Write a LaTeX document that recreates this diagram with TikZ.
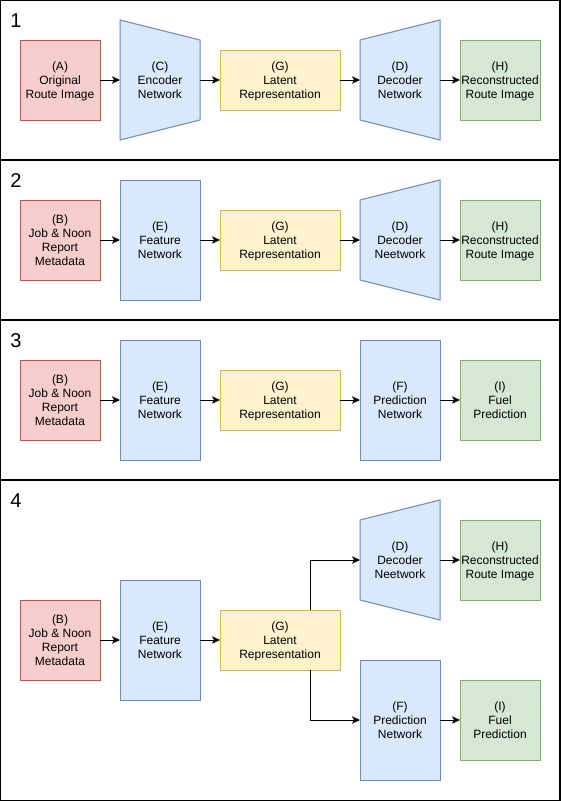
\documentclass[tikz,border=0pt]{standalone}
\usepackage{fontspec}
\setmainfont{Liberation Sans}
\usetikzlibrary{arrows.meta,calc,backgrounds}
\definecolor{redF}{HTML}{F8CECC}\definecolor{redD}{HTML}{B85450}
\definecolor{bluF}{HTML}{DAE8FC}\definecolor{bluD}{HTML}{6C8EBF}
\definecolor{yelF}{HTML}{FFF2CC}\definecolor{yelD}{HTML}{D6B656}
\definecolor{grnF}{HTML}{D5E8D4}\definecolor{grnD}{HTML}{82B366}
\tikzset{
  base/.style={inner sep=0pt,outer sep=0pt,align=center,line width=0.75pt,
    font=\fontsize{9}{10.5}\selectfont,text depth=0pt},
  inbox/.style={base,fill=redF,draw=redD,minimum width=60pt,minimum height=60pt},
  outbox/.style={base,fill=grnF,draw=grnD,minimum width=60pt,minimum height=60pt},
  latbox/.style={base,fill=yelF,draw=yelD,minimum width=90pt,minimum height=45pt},
  netbox/.style={base,fill=bluF,draw=bluD,minimum width=60pt,minimum height=90pt},
  trapbox/.style={base,minimum width=60pt,minimum height=90pt},
  trapfill/.style={fill=bluF,draw=bluD,line width=0.75pt},
  arr/.style={line width=0.75pt,-{Stealth[length=6pt,width=5.5pt,inset=1.5pt]}},
  frame/.style={line width=0.9pt,draw=black},
  num/.style={inner sep=0pt,font=\fontsize{15}{18}\selectfont},
}
\begin{document}
\begin{tikzpicture}[x=0.75pt,y=-0.75pt]
\useasboundingbox (0,0) rectangle (561,801);
\begin{scope}[on background layer]
\fill[white] (0,0) rectangle (561,801);
\end{scope}
\draw[frame] (0.5,0.5) rectangle (560,160);
\draw[frame] (0.5,160) rectangle (560,320);
\draw[frame] (0.5,320) rectangle (560,480);
\draw[frame] (0.5,480) rectangle (560,800.5);
\node[num] (n1) at (16,21) {1};
\node[num] (n2) at (16,181) {2};
\node[num] (n3) at (16,341) {3};
\node[num] (n4) at (16,501) {4};
% Panel 1
\node[inbox] (A1) at (60,80) {(A)\\Original\\Route Image};
\node[trapbox] (C1) at (160,80) {(C)\\Encoder\\Network};
\node[latbox] (G1) at (280,80) {(G)\\Latent\\Representation};
\node[trapbox] (D1) at (400,80) {(D)\\Decoder\\Network};
\node[outbox] (H1) at (500,80) {(H)\\Reconstructed\\Route Image};
% Panel 2
\node[inbox] (B2) at (60,240) {(B)\\Job \& Noon\\Report\\Metadata};
\node[netbox] (E2) at (160,240) {(E)\\Feature\\Network};
\node[latbox] (G2) at (280,240) {(G)\\Latent\\Representation};
\node[trapbox] (D2) at (400,240) {(D)\\Decoder\\Neetwork};
\node[outbox] (H2) at (500,240) {(H)\\Reconstructed\\Route Image};
% Panel 3
\node[inbox] (B3) at (60,400) {(B)\\Job \& Noon\\Report\\Metadata};
\node[netbox] (E3) at (160,400) {(E)\\Feature\\Network};
\node[latbox] (G3) at (280,400) {(G)\\Latent\\Representation};
\node[netbox] (F3) at (400,400) {(F)\\Prediction\\Network};
\node[outbox] (I3) at (500,400) {(I)\\Fuel\\Prediction};
% Panel 4
\node[inbox] (B4) at (60,640) {(B)\\Job \& Noon\\Report\\Metadata};
\node[netbox] (E4) at (160,640) {(E)\\Feature\\Network};
\node[latbox] (G4) at (280,640) {(G)\\Latent\\Representation};
\node[trapbox] (D4) at (400,560) {(D)\\Decoder\\Neetwork};
\node[outbox] (H4) at (500,560) {(H)\\Reconstructed\\Route Image};
\node[netbox] (F4) at (400,720) {(F)\\Prediction\\Network};
\node[outbox] (I4) at (500,720) {(I)\\Fuel\\Prediction};
\begin{scope}[on background layer]
\draw[trapfill] (C1.north west) -- ($(C1.north east)+(0,20)$) -- ($(C1.south east)+(0,-20)$) -- (C1.south west) -- cycle;
\foreach \d in {D1,D2,D4}{
  \draw[trapfill] ($(\d.north west)+(0,20)$) -- (\d.north east) -- (\d.south east) -- ($(\d.south west)+(0,-20)$) -- cycle;
}
\end{scope}
\draw[arr] (A1) -- (C1);
\draw[arr] (C1) -- (G1);
\draw[arr] (G1) -- (D1);
\draw[arr] (D1) -- (H1);
\draw[arr] (B2) -- (E2);
\draw[arr] (E2) -- (G2);
\draw[arr] (G2) -- (D2);
\draw[arr] (D2) -- (H2);
\draw[arr] (B3) -- (E3);
\draw[arr] (E3) -- (G3);
\draw[arr] (G3) -- (F3);
\draw[arr] (F3) -- (I3);
\draw[arr] (B4) -- (E4);
\draw[arr] (E4) -- (G4);
\draw[arr] ($(G4.north east)+(-30,0)$) |- (D4.west);
\draw[arr] ($(G4.south east)+(-30,0)$) |- (F4.west);
\draw[arr] (D4) -- (H4);
\draw[arr] (F4) -- (I4);
\end{tikzpicture}
\end{document}
